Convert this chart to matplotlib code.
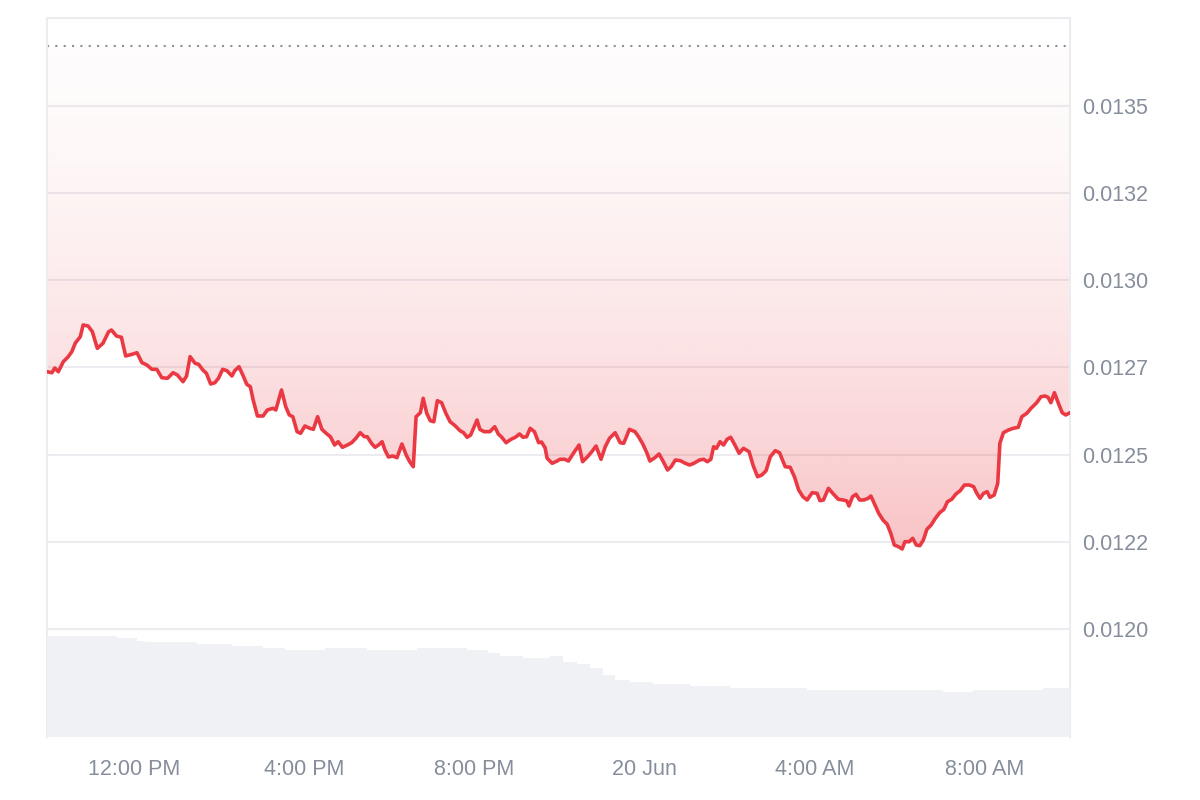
import numpy as np
import pandas as pd
import matplotlib
matplotlib.use("Agg")
import matplotlib.pyplot as plt
import matplotlib.dates as mdates
from matplotlib.colors import to_rgb

# minutes after 19 Jun 09:57
minutes = [0, 7, 11, 16, 23, 30, 35, 40, 47, 51, 58, 64, 71, 79, 87, 91, 98, 105, 111, 120,
           127, 134, 141, 148, 155, 162, 170, 178, 184, 192, 197, 202, 209, 214, 220, 225, 231, 237, 242, 248,
           254, 261, 265, 271, 277, 282, 287, 291, 297, 305, 311, 319, 323, 331, 337, 342, 347, 353, 358, 364,
           371, 376, 382, 388, 394, 400, 406, 411, 417, 424, 430, 436, 442, 448, 452, 458, 463, 468, 473, 477,
           482, 488, 494, 501, 507, 512, 517, 521, 527, 531, 536, 541, 546, 551, 557, 563, 569, 576, 583, 588,
           593, 598, 607, 611, 617, 625, 632, 637, 642, 648, 655, 661, 667, 672, 677, 682, 688, 694, 698, 703,
           706, 713, 720, 724, 731, 736, 743, 751, 756, 763, 769, 775, 782, 788, 794, 802, 809, 814, 817, 822,
           830, 835, 841, 847, 851, 858, 864, 870, 876, 881, 887, 894, 901, 907, 913, 921, 927, 932, 937, 941,
           945, 950, 955, 960, 965, 971, 977, 983, 991, 997, 1003, 1009, 1015, 1021, 1028, 1034, 1042, 1049, 1055, 1061,
           1067, 1073, 1080, 1087, 1091, 1096, 1103, 1110, 1117, 1124, 1129, 1132, 1137, 1142, 1147, 1153, 1159, 1163, 1168, 1174,
           1180, 1186, 1191, 1196, 1202, 1207, 1211, 1217, 1222, 1227, 1232, 1237, 1242, 1248, 1254, 1260, 1266, 1271, 1277, 1283,
           1289, 1295, 1302, 1308, 1312, 1317, 1322, 1327, 1331, 1337, 1342, 1345, 1350, 1357, 1364, 1371, 1376, 1383, 1389, 1397,
           1403, 1409, 1413, 1417, 1422, 1428, 1433, 1438, 1444]

# price in thousandths of a dollar
price_milli = [12.7379, 12.7351, 12.7485, 12.7379, 12.7666, 12.7810, 12.7953, 12.8202, 12.8383, 12.8719,
               12.8690, 12.8527, 12.8050, 12.8194, 12.8527, 12.8575, 12.8403, 12.8366, 12.7830, 12.7878,
               12.7924, 12.7638, 12.7572, 12.7448, 12.7448, 12.7207, 12.7190, 12.7351, 12.7285, 12.7093,
               12.7256, 12.7810, 12.7620, 12.7591, 12.7428, 12.7333, 12.7027, 12.7064, 12.7190, 12.7448,
               12.7408, 12.7256, 12.7408, 12.7523, 12.7256, 12.7018, 12.6949, 12.6568, 12.6109, 12.6109,
               12.6281, 12.6330, 12.6281, 12.6855, 12.6376, 12.6138, 12.6089, 12.5659, 12.5613, 12.5822,
               12.5756, 12.5727, 12.6089, 12.5727, 12.5613, 12.5515, 12.5277, 12.5372, 12.5211, 12.5277,
               12.5343, 12.5469, 12.5630, 12.5515, 12.5515, 12.5326, 12.5211, 12.5277, 12.5372, 12.5134,
               12.4933, 12.4962, 12.4913, 12.5306, 12.4990, 12.4798, 12.4655, 12.6089, 12.6203, 12.6616,
               12.6186, 12.5974, 12.5945, 12.6548, 12.6490, 12.6186, 12.5945, 12.5831, 12.5687, 12.5630,
               12.5498, 12.5564, 12.5994, 12.5727, 12.5659, 12.5659, 12.5802, 12.5593, 12.5498, 12.5343,
               12.5441, 12.5498, 12.5593, 12.5498, 12.5515, 12.5756, 12.5659, 12.5343, 12.5363, 12.5200,
               12.4896, 12.4752, 12.4818, 12.4867, 12.4867, 12.4818, 12.5039, 12.5277, 12.4798, 12.4942,
               12.5085, 12.5248, 12.4867, 12.5228, 12.5469, 12.5630, 12.5343, 12.5326, 12.5469, 12.5727,
               12.5659, 12.5515, 12.5306, 12.5039, 12.4818, 12.4913, 12.5019, 12.4798, 12.4560, 12.4655,
               12.4847, 12.4827, 12.4752, 12.4704, 12.4752, 12.4847, 12.4867, 12.4798, 12.4867, 12.5228,
               12.5182, 12.5372, 12.5277, 12.5441, 12.5498, 12.5277, 12.5039, 12.5182, 12.5085, 12.4675,
               12.4368, 12.4417, 12.4540, 12.4942, 12.5114, 12.5056, 12.4655, 12.4638, 12.4368, 12.3987,
               12.3794, 12.3700, 12.3909, 12.3892, 12.3680, 12.3700, 12.4035, 12.3872, 12.3720, 12.3700,
               12.3671, 12.3528, 12.3794, 12.3863, 12.3700, 12.3700, 12.3748, 12.3814, 12.3585, 12.3318,
               12.3126, 12.3003, 12.2745, 12.2409, 12.2360, 12.2294, 12.2504, 12.2504, 12.2601, 12.2409,
               12.2389, 12.2553, 12.2859, 12.2983, 12.3175, 12.3335, 12.3433, 12.3651, 12.3720, 12.3872,
               12.3966, 12.4130, 12.4130, 12.4081, 12.3909, 12.3748, 12.3892, 12.3938, 12.3777, 12.3843,
               12.4179, 12.5326, 12.5630, 12.5707, 12.5756, 12.5785, 12.6089, 12.6186, 12.6330, 12.6490,
               12.6662, 12.6682, 12.6645, 12.6490, 12.6777, 12.6453, 12.6203, 12.6138, 12.6203]

baseline_price = 0.013672

# volume steps: start minute and relative level
vol_start = [0, 99, 127, 138, 212, 261, 305, 336, 392, 452, 522, 593, 623, 640, 672, 710, 728, 748,
             767, 785, 802, 823, 856, 908, 964, 1073, 1265, 1307, 1406]
vol_level = [10.1, 9.87, 9.63, 9.47, 9.27, 9.1, 8.87, 8.7, 8.87, 8.7, 8.87, 8.7, 8.37, 8.1, 7.87, 8.1, 7.5, 7.3,
             6.87, 6.2, 5.7, 5.53, 5.3, 5.1, 4.87, 4.7, 4.5, 4.7, 4.9]
vol_end = 1444

xtick_times = ["2024-06-19 12:00", "2024-06-19 16:00", "2024-06-19 20:00",
               "2024-06-20 00:00", "2024-06-20 04:00", "2024-06-20 08:00"]
xtick_labels = ["12:00 PM", "4:00 PM", "8:00 PM", "20 Jun", "4:00 AM", "8:00 AM"]
ytick_vals = [0.0120, 0.01225, 0.0125, 0.01275, 0.0130, 0.01325, 0.0135]
ytick_labels = ["0.0120", "0.0122", "0.0125", "0.0127", "0.0130", "0.0132", "0.0135"]

start = pd.Timestamp("2024-06-19 09:57")
t = mdates.date2num(start + pd.to_timedelta(minutes, unit="min"))
price = np.array(price_milli) / 1000

red = "#ea3943"
label_col = "#868e9c"
grid_col = "#ececf0"

plt.rcParams["font.family"] = ["Liberation Sans", "DejaVu Sans"]

fig = plt.figure(figsize=(12, 8), dpi=100)
ax = fig.add_axes([47 / 1200, 1 - 737 / 800, 1023 / 1200, 719 / 800])

ax.set_xlim(t[0], t[-1])
ax.set_ylim(0.0116903, 0.0137523)

# gradient fill between price and baseline, stronger towards the low
poly = ax.fill_between(t, price, baseline_price, color="none", lw=0)
n = 256
s = np.linspace(1, 0, n)
rgba = np.zeros((n, 1, 4))
rgba[..., :3] = to_rgb(red)
rgba[:, 0, 3] = 0.015 + 0.29 * s ** 1.6
im = ax.imshow(rgba, extent=[t[0], t[-1], price.min(), baseline_price],
               origin="lower", aspect="auto", zorder=1, interpolation="bilinear")
im.set_clip_path(poly.get_paths()[0], transform=ax.transData)

ax.axhline(baseline_price, color="#8b909c", lw=1.5, linestyle=(0, (1, 3)), zorder=2)
ax.plot(t, price, color=red, lw=2.6, solid_joinstyle="round", zorder=3)

for v in ytick_vals:
    ax.axhline(v, color=grid_col, lw=1.5, zorder=0.5)

# volume on its own scale
axv = ax.twinx()
vs = mdates.date2num(start + pd.to_timedelta(vol_start, unit="min"))
ve = mdates.date2num(start + pd.to_timedelta(vol_start[1:] + [vol_end], unit="min"))
axv.bar(vs, vol_level, width=ve - vs, align="edge", color="#eff1f5", lw=0, zorder=0)
axv.set_ylim(0, 71.9)
axv.set_xlim(t[0], t[-1])
axv.set_yticks([])
for sp in axv.spines.values():
    sp.set_visible(False)
axv.patch.set_visible(False)

ax.yaxis.tick_right()
ax.set_yticks(ytick_vals)
ax.set_yticklabels(ytick_labels)
ax.set_xticks(mdates.date2num(pd.to_datetime(xtick_times)))
ax.set_xticklabels(xtick_labels)
ax.tick_params(axis="both", length=0, labelsize=15.5, labelcolor=label_col)
ax.tick_params(axis="y", pad=8.5)
ax.tick_params(axis="x", pad=16)

for side in ["top", "left", "right"]:
    ax.spines[side].set_color(grid_col)
    ax.spines[side].set_linewidth(1.5)
ax.spines["bottom"].set_visible(False)

fig.savefig("out.png", dpi=100, facecolor="white")
